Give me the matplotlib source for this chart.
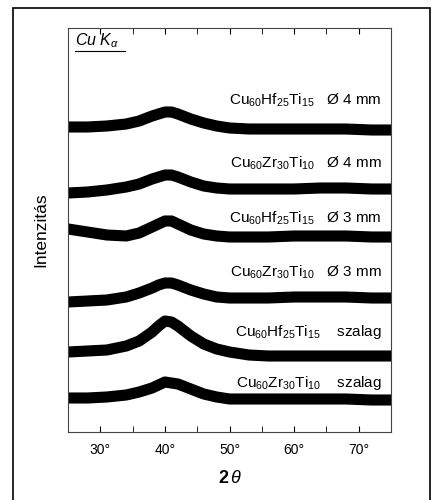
import matplotlib.pyplot as plt
from matplotlib.patches import Rectangle

plt.rcParams['font.family'] = ['Liberation Sans', 'DejaVu Sans']
plt.rcParams['mathtext.fontset'] = 'custom'
plt.rcParams['mathtext.rm'] = 'Liberation Sans'
plt.rcParams['mathtext.it'] = 'Liberation Sans:italic'
plt.rcParams['mathtext.bf'] = 'Liberation Sans:bold'

# 2theta sampling (deg) and stacked intensities (a.u., offset per pattern)
two_theta = [25, 28, 31, 34, 36, 38, 39, 40, 41, 42, 44, 46, 48, 50, 53, 56, 60, 64, 68, 72, 75]

hf_4mm = [305, 305, 306, 308, 311, 316, 318, 320, 320, 318, 313, 309, 306, 304, 303, 303, 303, 303, 303, 302, 302]
zr_4mm = [239, 240, 242, 245, 248, 253, 255, 257, 257, 255, 250, 246, 244, 243, 243, 243, 243, 244, 244, 243, 243]
hf_3mm = [203, 200, 197, 196, 199, 205, 208, 211, 211, 208, 202, 198, 196, 195, 195, 195, 196, 196, 196, 195, 195]
zr_3mm = [130, 131, 132, 135, 139, 144, 147, 149, 149, 147, 142, 138, 135, 134, 134, 134, 135, 135, 135, 134, 134]
hf_ribbon = [80, 81, 82, 86, 91, 100, 106, 111, 110, 106, 96, 88, 83, 80, 77, 76, 76, 76, 76, 76, 76]
zr_ribbon = [34, 34, 35, 37, 40, 44, 47, 50, 49, 48, 43, 38, 35, 33, 33, 33, 33, 33, 33, 32, 32]

patterns = [hf_4mm, zr_4mm, hf_3mm, zr_3mm, hf_ribbon, zr_ribbon]
labels = [r'Cu$_{60}$Hf$_{25}$Ti$_{15}$   Ø 4 mm',
          r'Cu$_{60}$Zr$_{30}$Ti$_{10}$   Ø 4 mm',
          r'Cu$_{60}$Hf$_{25}$Ti$_{15}$   Ø 3 mm',
          r'Cu$_{60}$Zr$_{30}$Ti$_{10}$   Ø 3 mm',
          r'Cu$_{60}$Hf$_{25}$Ti$_{15}$    szalag',
          r'Cu$_{60}$Zr$_{30}$Ti$_{10}$    szalag']
label_y = [332, 269, 214, 160, 100, 49]

xticks = [30, 40, 50, 60, 70]
xticklabels = ['30°', '40°', '50°', '60°', '70°']

fig = plt.figure(figsize=(4.34, 5.0), dpi=100)
ax = fig.add_axes([0.157, 0.136, 0.744, 0.808])

for p in patterns:
    ax.plot(two_theta, p, color='black', lw=8, solid_joinstyle='round')

for lab, y in zip(labels, label_y):
    ax.text(73.6, y, lab, ha='right', va='center', fontsize=11)

ax.text(26.1, 391, r'$Cu\ K_{\alpha}$', ha='left', va='center', fontsize=11.5)
ax.plot([26.1, 33.8], [381, 381], color='black', lw=0.8)

ax.set_xlim(25, 75)
ax.set_ylim(0, 404)
ax.set_xticks(xticks)
ax.set_xticklabels(xticklabels, fontsize=10)
ax.set_xticks([25, 35, 45, 55, 65, 75], minor=True)
ax.set_yticks([])
ax.tick_params(axis='x', which='both', direction='in', top=True, length=4, pad=8)
ax.set_xlabel(r'$\mathbf{2}\,\mathit{\theta}$', fontsize=13, labelpad=9)
ax.set_ylabel('Intenzitás', fontsize=12.5, labelpad=14)
for s in ax.spines.values():
    s.set_linewidth(0.8)
    s.set_color('#444444')

fig.add_artist(Rectangle((0.030, -0.02), 0.961, 1.004, fill=False,
                         transform=fig.transFigure, lw=1.2, color='black'))

fig.savefig('out.png', dpi=100)
